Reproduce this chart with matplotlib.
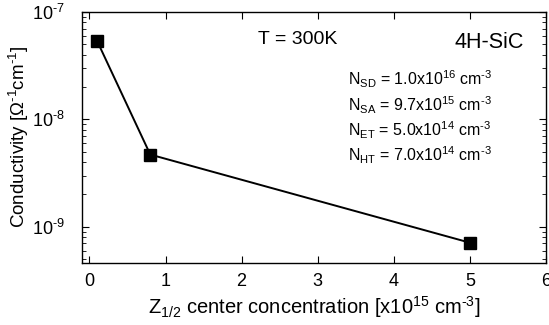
import matplotlib
matplotlib.use("Agg")
import matplotlib.pyplot as plt
from matplotlib.ticker import LogLocator, NullFormatter, FixedLocator, FuncFormatter
import math

plt.rcParams['font.family'] = ['Liberation Sans', 'DejaVu Sans']
plt.rcParams['mathtext.fontset'] = 'custom'
plt.rcParams['mathtext.rm'] = 'Liberation Sans'
plt.rcParams['mathtext.it'] = 'Liberation Sans:italic'
plt.rcParams['mathtext.bf'] = 'Liberation Sans:bold'

z12 = [0.1, 0.8, 5.0]
conductivity = [5.4e-8, 4.7e-9, 7.1e-10]
xticks = [0, 1, 2, 3, 4, 5, 6]

fig = plt.figure(figsize=(5.49, 3.25), dpi=100)
ax = fig.add_axes([0.149, 0.191, 0.8455, 0.772])
ax.plot(z12, conductivity, color='black', lw=1.4, marker='s', ms=8, mec='black', mfc='black')
ax.set_yscale('log')
ax.set_xlim(-0.1, 6)
ax.set_ylim(4.6e-10, 1e-7)
ax.xaxis.set_major_locator(FixedLocator(xticks))
ax.yaxis.set_major_locator(LogLocator(base=10))
ax.yaxis.set_major_formatter(FuncFormatter(
    lambda v, p: r'$\rm 10^{\text{-}%d}$' % abs(round(math.log10(v)))))
ax.yaxis.set_minor_locator(LogLocator(base=10, subs=range(2, 10)))
ax.yaxis.set_minor_formatter(NullFormatter())
ax.tick_params(axis='both', which='both', direction='in', top=True, right=True)
ax.tick_params(axis='x', labelsize=13, pad=7)
ax.tick_params(axis='y', labelsize=13, pad=12)
ax.tick_params(which='major', length=5)
ax.tick_params(which='minor', length=3)
for s in ax.spines.values():
    s.set_linewidth(1.0)

ax.set_xlabel(r'Z$_{\rm 1/2}$ center concentration [x10$^{15}$ cm$^{\text{-}3}$]', fontsize=14.5, va='top')
ax.xaxis.set_label_coords(0.501, -0.125)
ax.set_ylabel(r'Conductivity [$\Omega^{\text{-}1}$cm$^{\text{-}1}$]', fontsize=13.5, va='center')
ax.yaxis.set_label_coords(-0.135, 0.504)

ax.text(0.38, 0.89, 'T = 300K', transform=ax.transAxes, fontsize=14, va='center')
ax.text(0.953, 0.88, '4H-SiC', transform=ax.transAxes, fontsize=15.5, va='center', ha='right')
lines = [r'N$_{\rm SD}$ = 1.0x10$^{16}$ cm$^{\text{-}3}$',
         r'N$_{\rm SA}$ = 9.7x10$^{15}$ cm$^{\text{-}3}$',
         r'N$_{\rm ET}$ = 5.0x10$^{14}$ cm$^{\text{-}3}$',
         r'N$_{\rm HT}$ = 7.0x10$^{14}$ cm$^{\text{-}3}$']
for i, t in enumerate(lines):
    ax.text(0.573, 0.73 - i * 0.1, t, transform=ax.transAxes, fontsize=11.5, va='center')

fig.savefig('out.png', dpi=100)
